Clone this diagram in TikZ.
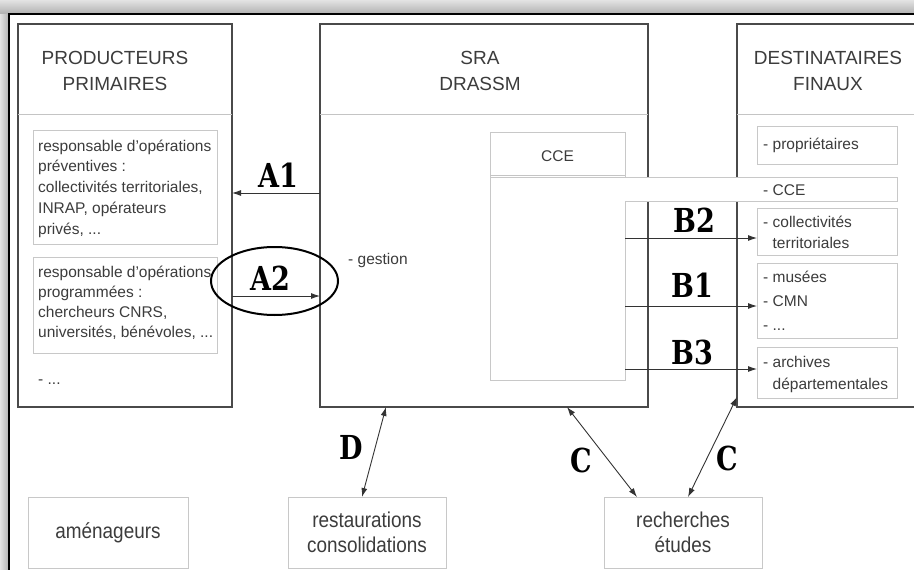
\documentclass[tikz,border=0pt]{standalone}
\usepackage{fontspec}
\setmainfont{Liberation Sans}
\newfontfamily\lblfont{DejaVu Serif}[FakeStretch=0.82]
\newfontfamily\narrowfont{Liberation Sans}[FakeStretch=0.88]
\usetikzlibrary{shapes.geometric,arrows.meta,calc}
\definecolor{txt}{HTML}{3C3C3C}
\definecolor{outerc}{HTML}{4A4A4A}
\definecolor{innerc}{HTML}{C8C8C8}
\definecolor{sepc}{HTML}{C4C4C4}
\tikzset{
  outerbox/.style={draw=outerc, line width=1.4pt, inner sep=0pt, outer sep=0pt, anchor=north west, fill=white},
  innerbox/.style={draw=innerc, line width=1pt, inner sep=0pt, outer sep=0pt, anchor=north west},
  innerline/.style={draw=innerc, line width=1pt},
  sepline/.style={draw=sepc, line width=1pt},
  titletext/.style={text=txt, font=\fontsize{19}{25.5}\selectfont, align=center, inner sep=0pt, anchor=north},
  smalltext/.style={text=txt, font=\fontsize{15.5}{20.7}\selectfont, align=left, inner sep=0pt},
  bottext/.style={text=txt, font=\narrowfont\fontsize{21.5}{25}\selectfont, align=center},
  lbl/.style={font=\lblfont\bfseries\fontsize{33}{33}\selectfont, inner sep=0pt, text=black},
  arr/.style={draw=black!80, line width=0.9pt, -{Latex[length=9pt,width=6pt]}},
  darr/.style={draw=black!80, line width=0.9pt, {Latex[length=9pt,width=6pt]}-{Latex[length=9pt,width=6pt]}},
}
\begin{document}
\begin{tikzpicture}[x=1pt,y=-1pt]
\useasboundingbox (0,0) rectangle (914,570);
\clip (0,0) rectangle (914,570);
% frame and shadow
\shade[top color=gray!22, bottom color=gray!62] (0,0) rectangle (914,14);
\shade[left color=gray!22, right color=gray!62] (0,14) rectangle (9,570);
\draw[line width=2pt, black] (9,570) -- (9,14) -- (914,14);

% outer boxes
\node[outerbox, minimum width=214pt, minimum height=383pt] (prod) at (18,24) {};
\node[outerbox, minimum width=328pt, minimum height=383pt] (sra) at (320,24) {};
\node[outerbox, minimum width=200pt, minimum height=383pt] (dest) at (737,24) {};
\coordinate (ysep) at (0,114);
\draw[sepline] (prod.west |- ysep) -- (prod.east |- ysep);
\draw[sepline] (sra.west |- ysep) -- (sra.east |- ysep);
\draw[sepline] (dest.west |- ysep) -- (dest.east |- ysep);

% titles
\node[titletext] (tprod) at (115,51.5) {PRODUCTEURS\\PRIMAIRES};
\node[titletext] (tsra) at (480,51.5) {SRA\\DRASSM};
\node[titletext] (tdest) at (828,51.5) {DESTINATAIRES\\FINAUX};

% producteurs inner
\node[innerbox, minimum width=184pt, minimum height=114pt] (p1) at (33,130) {};
\node[innerbox, minimum width=184pt, minimum height=96pt] (p2) at (33,257) {};
\node[smalltext, anchor=north west] (p1t) at (38,139.6) {responsable d'opérations\\préventives :\\collectivités territoriales,\\INRAP, opérateurs\\privés, ...};
\node[smalltext, anchor=north west, font=\fontsize{15.5}{20}\selectfont] (p2t) at (38,265.6) {responsable d'opérations\\programmées :\\chercheurs CNRS,\\universités, bénévoles, ...};
\node[smalltext, anchor=base west] (p3t) at (38,384) {- ...};

% SRA inner
\node[smalltext, anchor=base west] (gest) at (348,264) {- gestion};
\node[innerbox, fill=white, minimum width=135pt, minimum height=248pt] (cce) at (490,132) {};
\draw[sepline] (cce.west |- 0,175) -- (cce.east |- 0,175);
\node[smalltext, anchor=base] (ccet) at (557.5,161.5) {CCE};
\node[anchor=north west, fill=white, inner sep=0pt, outer sep=0pt, minimum width=406pt, minimum height=24pt] (strip) at (491,177) {};
\draw[innerline] (cce.west |- strip.north) -- (strip.north east) -- (strip.south east) -- (cce.east |- strip.south);
\node[smalltext, anchor=base west] (stript) at (763,195.5) {- CCE};

% destinataires inner
\node[innerbox, minimum width=140pt, minimum height=38pt] (d1) at (757,126) {};
\node[innerbox, minimum width=140pt, minimum height=47pt] (d2) at (757,208) {};
\node[innerbox, minimum width=140pt, minimum height=75pt] (d3) at (757,263) {};
\node[innerbox, minimum width=140pt, minimum height=51pt] (d4) at (757,347) {};
\node[smalltext, anchor=base west] (d1t) at (763,149) {- propriétaires};
\node[smalltext, anchor=north west, font=\fontsize{15.5}{21}\selectfont] (d2t) at (763,215.6) {- collectivités\\\phantom{- }territoriales};
\node[smalltext, anchor=north west, font=\fontsize{15.5}{24}\selectfont] (d3t) at (763,270.6) {- musées\\- CMN\\- ...};
\node[smalltext, anchor=north west, font=\fontsize{15.5}{22}\selectfont] (d4t) at (763,355.9) {- archives\\\phantom{- }départementales};

% bottom boxes
\node[innerbox, bottext, minimum width=160pt, minimum height=71pt, anchor=center] (amen) at (108,532.5) {aménageurs};
\node[innerbox, bottext, minimum width=158pt, minimum height=71pt, anchor=center] (rest) at (367,532.5) {restaurations\\consolidations};
\node[innerbox, bottext, minimum width=158pt, minimum height=71pt, anchor=center] (rech) at (683,532.5) {recherches\\études};

% A arrows
\coordinate (ya1) at (0,193);
\coordinate (ya2) at (0,296);
\draw[arr] (sra.west |- ya1) -- (prod.east |- ya1);
\draw[arr] (prod.east |- ya2) -- (sra.west |- ya2);
\node[draw=black, line width=2pt, ellipse, minimum width=127pt, minimum height=68pt, inner sep=0pt] (ring) at (274.5,281) {};

% B arrows
\coordinate (yb2) at (0,238);
\coordinate (yb1) at (0,306);
\coordinate (yb3) at (0,369);
\draw[arr] (cce.east |- yb2) -- (d2.west |- yb2);
\draw[arr] (cce.east |- yb1) -- (d3.west |- yb1);
\draw[arr] (cce.east |- yb3) -- (d4.west |- yb3);

% bottom arrows
\draw[darr] ($(sra.south west)+(66,0)$) -- ($(rest.north west)+(74,0)$);
\draw[darr] ($(sra.south west)+(247,0)$) -- ($(rech.north west)+(33,0)$);
\draw[darr] ($(dest.south west)+(0,-10)$) -- ($(rech.north west)+(84,0)$);

% labels
\node[lbl] (la1) at (278,175) {A1};
\node[lbl] (la2) at (270,278) {A2};
\node[lbl] (lb2) at (694,220.5) {B2};
\node[lbl] (lb1) at (692,285) {B1};
\node[lbl] (lb3) at (692,352) {B3};
\node[lbl] (ld) at (351,447) {D};
\node[lbl] (lc1) at (581,460) {C};
\node[lbl] (lc2) at (727,458) {C};
\end{tikzpicture}
\end{document}
